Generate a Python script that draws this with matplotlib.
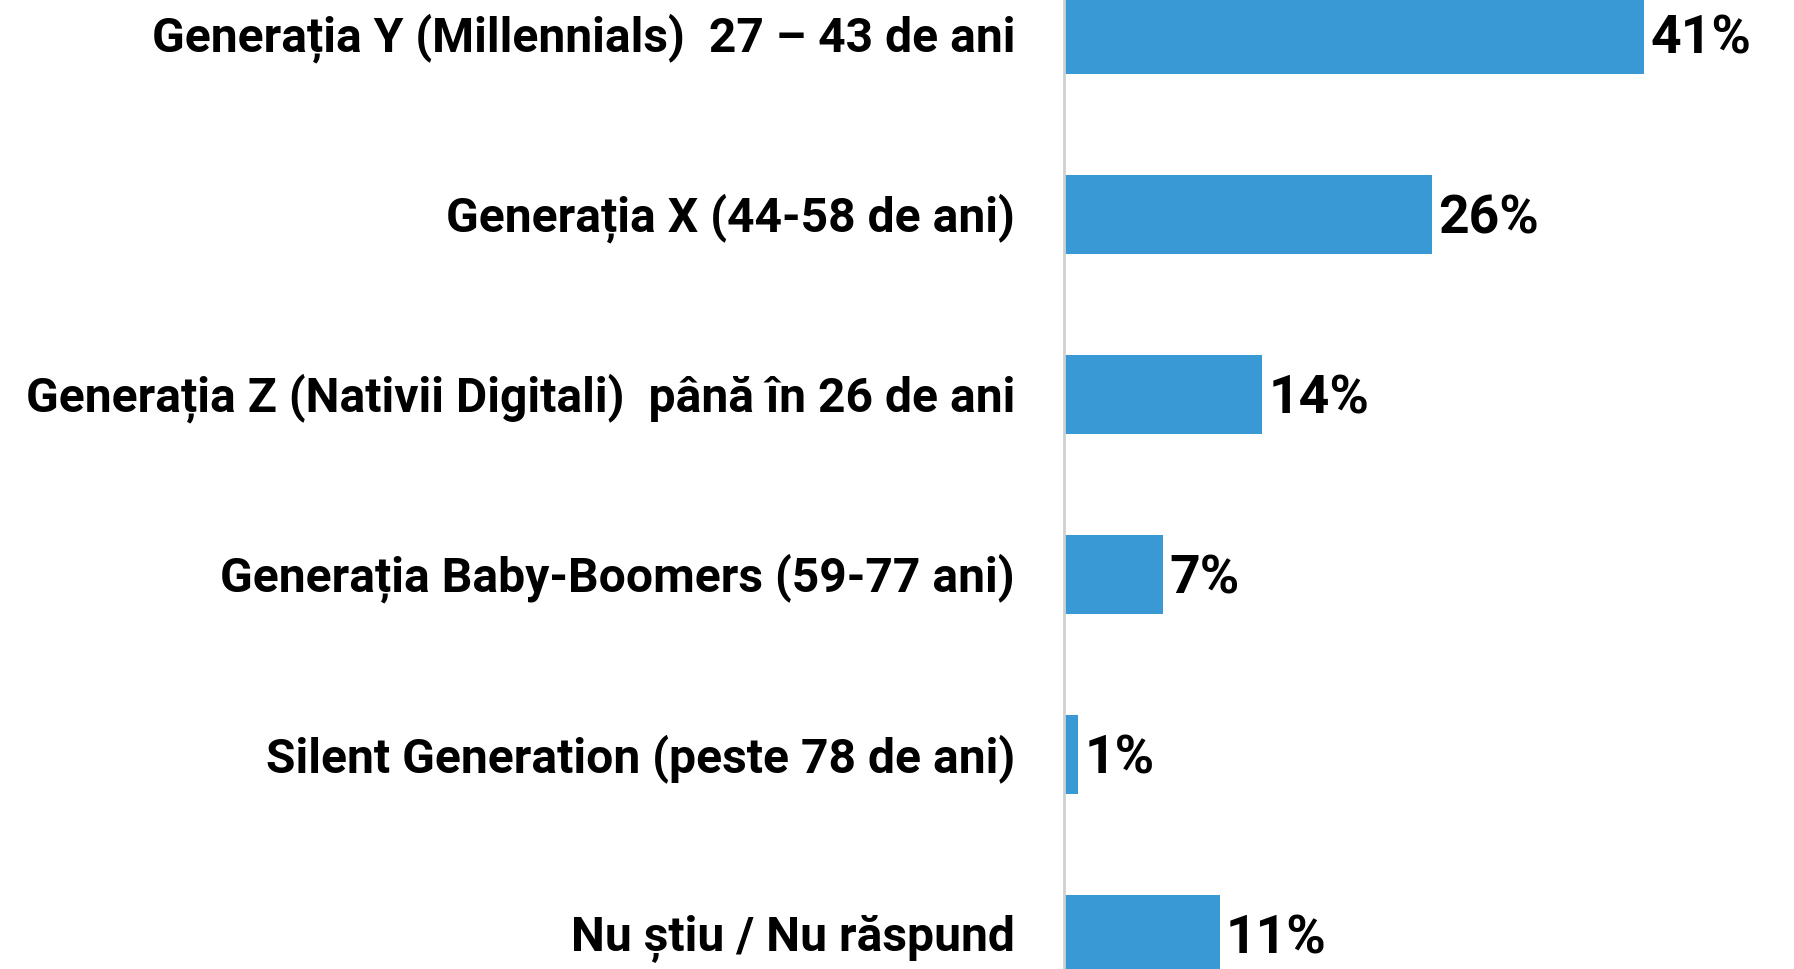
import matplotlib.pyplot as plt

categorii = [
    "Generația Y (Millennials)  27 – 43 de ani",
    "Generația X (44-58 de ani)",
    "Generația Z (Nativii Digitali)  până în 26 de ani",
    "Generația Baby-Boomers (59-77 ani)",
    "Silent Generation (peste 78 de ani)",
    "Nu știu / Nu răspund",
]
procente = [41, 26, 14, 7, 1, 11]

W, H = 1794, 969
fig = plt.figure(figsize=(W / 100, H / 100), dpi=100)
ax = fig.add_axes([1064 / W, 0, (W - 1064) / W, 1])

y = range(len(categorii))
ax.barh(y, procente, height=0.44, color="#3899d4")

ax.set_ylim(len(categorii) - 1 + 0.1917, -0.1917)
ax.set_xlim(0, 730 / 14.15)

for i, v in enumerate(procente):
    ax.text(v + 0.45, i + 0.025, f"{v}%", va="center", ha="left",
            fontsize=38.5, fontweight="bold", family="Roboto")
    fig.text(1015 / W, 1 - (38.5 + 180 * i) / H, categorii[i], ha="right", va="center",
             fontsize=34.6, fontweight="bold", family="Roboto")

for s in ["top", "right", "bottom"]:
    ax.spines[s].set_visible(False)
ax.spines["left"].set_color("#d0d0d0")
ax.spines["left"].set_linewidth(2)
ax.set_xticks([])
ax.set_yticks([])

fig.savefig("out.png", dpi=100)
